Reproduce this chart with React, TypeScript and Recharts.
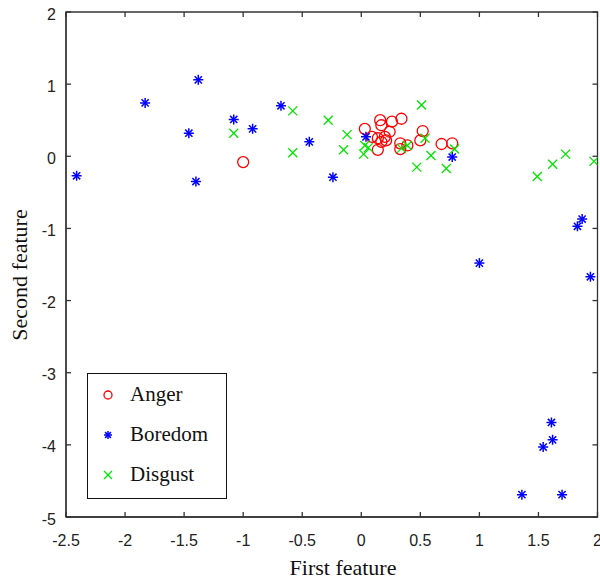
import React from 'react';
import { ScatterChart, Scatter, XAxis, YAxis, ReferenceArea } from 'recharts';

const angerX = [0.14, 0.03, 0.16, 0.17, 0.26, 0.34, 0.24, 0.09, 0.14, 0.20, 0.21, 0.17, 0.33, 0.33, 0.39, 0.50, 0.52, 0.68, 0.77, -1.00];
const angerY = [0.09, 0.38, 0.50, 0.43, 0.48, 0.52, 0.34, 0.27, 0.25, 0.27, 0.22, 0.20, 0.18, 0.10, 0.15, 0.22, 0.35, 0.17, 0.18, -0.08];

const boredomX = [-2.41, -1.83, -1.38, -1.46, -1.40, -1.08, -0.92, -0.68, -0.44, -0.24, 0.04, 0.77, 1.00, 1.83, 1.87, 1.94, 1.61, 1.62, 1.54, 1.36, 1.70];
const boredomY = [-0.27, 0.74, 1.06, 0.32, -0.35, 0.51, 0.38, 0.70, 0.20, -0.29, 0.27, -0.01, -1.48, -0.97, -0.87, -1.67, -3.69, -3.93, -4.03, -4.69, -4.69];

const disgustX = [-1.08, -0.58, -0.58, -0.28, -0.12, -0.15, 0.02, 0.03, 0.06, 0.51, 0.47, 0.59, 0.72, 0.79, 0.54, 0.34, 0.39, 1.49, 1.62, 1.73, 1.97];
const disgustY = [0.32, 0.63, 0.05, 0.50, 0.30, 0.09, 0.03, 0.15, 0.12, 0.71, -0.15, 0.01, -0.17, 0.10, 0.25, 0.11, 0.15, -0.28, -0.11, 0.03, -0.07];

const xTicks = [-2.5, -2, -1.5, -1, -0.5, 0, 0.5, 1, 1.5, 2];
const yTicks = [-5, -4, -3, -2, -1, 0, 1, 2];
const seriesNames = ['Anger', 'Boredom', 'Disgust'];
const xTitle = 'First feature';
const yTitle = 'Second feature';

const toPoints = (xs: number[], ys: number[]) => xs.map((x, i) => ({ x, y: ys[i] }));
const anger = toPoints(angerX, angerY);
const boredom = toPoints(boredomX, boredomY);
const disgust = toPoints(disgustX, disgustY);

const W = 600;
const H = 579;
const M = { top: 12, right: 2.5, bottom: 22, left: 6 };
const YW = 60;
const XH = 40;
const PLOT_TOP = M.top;
const PLOT_BOTTOM = H - M.bottom - XH;
const PLOT_LEFT = M.left + YW;
const PLOT_RIGHT = W - M.right;
const AXIS = '#333';
const TICK_FONT = '"Liberation Sans", Arial, sans-serif';
const SERIF = '"Liberation Serif", "Times New Roman", serif';

const RED = '#ff0000';
const BLUE = '#0000ff';
const GREEN = '#00e600';

const CircleShape = (p: any) => (
  <circle cx={p.cx} cy={p.cy} r={p.r ?? 5.5} fill="none" stroke={RED} strokeWidth={1.3} />
);
const StarShape = (p: any) => {
  const r = p.r ?? 5;
  const d = r * 0.72;
  return (
    <g stroke={BLUE} strokeWidth={1.5}>
      <line x1={p.cx - r} y1={p.cy} x2={p.cx + r} y2={p.cy} />
      <line x1={p.cx} y1={p.cy - r} x2={p.cx} y2={p.cy + r} />
      <line x1={p.cx - d} y1={p.cy - d} x2={p.cx + d} y2={p.cy + d} />
      <line x1={p.cx - d} y1={p.cy + d} x2={p.cx + d} y2={p.cy - d} />
    </g>
  );
};
const CrossShape = (p: any) => {
  const d = p.r ?? 4.5;
  return (
    <g stroke={GREEN} strokeWidth={1.3}>
      <line x1={p.cx - d} y1={p.cy - d} x2={p.cx + d} y2={p.cy + d} />
      <line x1={p.cx - d} y1={p.cy + d} x2={p.cx + d} y2={p.cy - d} />
    </g>
  );
};

const XTick = (p: any) => {
  const x = p.x;
  return (
    <g>
      <line x1={x} y1={PLOT_BOTTOM} x2={x} y2={PLOT_BOTTOM - 5} stroke={AXIS} strokeWidth={1.3} />
      <line x1={x} y1={PLOT_TOP} x2={x} y2={PLOT_TOP + 5} stroke={AXIS} strokeWidth={1.3} />
      <text x={x} y={PLOT_BOTTOM + 29} textAnchor="middle" fontFamily={TICK_FONT} fontSize={16} fill="#222">
        {p.payload.value}
      </text>
    </g>
  );
};

const YTick = (p: any) => {
  const y = p.y;
  return (
    <g>
      <line x1={PLOT_LEFT} y1={y} x2={PLOT_LEFT + 5} y2={y} stroke={AXIS} strokeWidth={1.3} />
      <line x1={PLOT_RIGHT} y1={y} x2={PLOT_RIGHT - 5} y2={y} stroke={AXIS} strokeWidth={1.3} />
      <text x={PLOT_LEFT - 10} y={y + 7.5} textAnchor="end" fontFamily={TICK_FONT} fontSize={16} fill="#222">
        {p.payload.value}
      </text>
    </g>
  );
};

const LegendBox = () => {
  const shapes = [CircleShape, StarShape, CrossShape];
  return (
    <div
      style={{
        position: 'absolute',
        left: 87,
        top: 373,
        width: 140,
        height: 126,
        border: '1.3px solid #111',
        background: '#fff',
        boxSizing: 'border-box',
        paddingTop: 0,
      }}
    >
      {seriesNames.map((name, i) => {
        const Shape = shapes[i];
        return (
          <div key={name} style={{ display: 'flex', alignItems: 'center', height: 40 }}>
            <svg width={40} height={20} style={{ display: 'block' }}>
              <Shape cx={20} cy={11} r={4} />
            </svg>
            <span style={{ fontFamily: SERIF, fontSize: 21, color: '#111', marginLeft: 2, lineHeight: '20px' }}>{name}</span>
          </div>
        );
      })}
    </div>
  );
};

export default function App() {
  return (
    <div style={{ position: 'absolute', left: 0, top: 0, width: W, height: H, background: '#fff', overflow: 'hidden' }}>
      <ScatterChart width={W} height={H} margin={M}>
        <XAxis
          type="number"
          dataKey="x"
          domain={[-2.5, 2]}
          ticks={xTicks}
          allowDataOverflow
          height={XH}
          stroke={AXIS}
          strokeWidth={1.3}
          tickLine={false}
          tickSize={0}
          tick={<XTick />}
          interval={0}
        />
        <YAxis
          type="number"
          dataKey="y"
          domain={[-5, 2]}
          ticks={yTicks}
          allowDataOverflow
          width={YW}
          stroke={AXIS}
          strokeWidth={1.3}
          tickLine={false}
          tickSize={0}
          tick={<YTick />}
          interval={0}
        />
        <ReferenceArea x1={-2.5} x2={2} y1={-5} y2={2} fill="none" stroke={AXIS} strokeWidth={1.3} ifOverflow="visible" />
        <Scatter name="Anger" data={anger} shape={CircleShape} isAnimationActive={false} />
        <Scatter name="Boredom" data={boredom} shape={StarShape} isAnimationActive={false} />
        <Scatter name="Disgust" data={disgust} shape={CrossShape} isAnimationActive={false} />
      </ScatterChart>
      <LegendBox />
      <svg width={W} height={H} style={{ position: 'absolute', left: 0, top: 0, pointerEvents: 'none' }}>
        <text x={343} y={575} textAnchor="middle" fontFamily={SERIF} fontSize={22} fill="#111">
          {xTitle}
        </text>
        <text
          x={27}
          y={275}
          textAnchor="middle"
          fontFamily={SERIF}
          fontSize={22}
          fill="#111"
          transform="rotate(-90, 27, 275)"
        >
          {yTitle}
        </text>
      </svg>
    </div>
  );
}
